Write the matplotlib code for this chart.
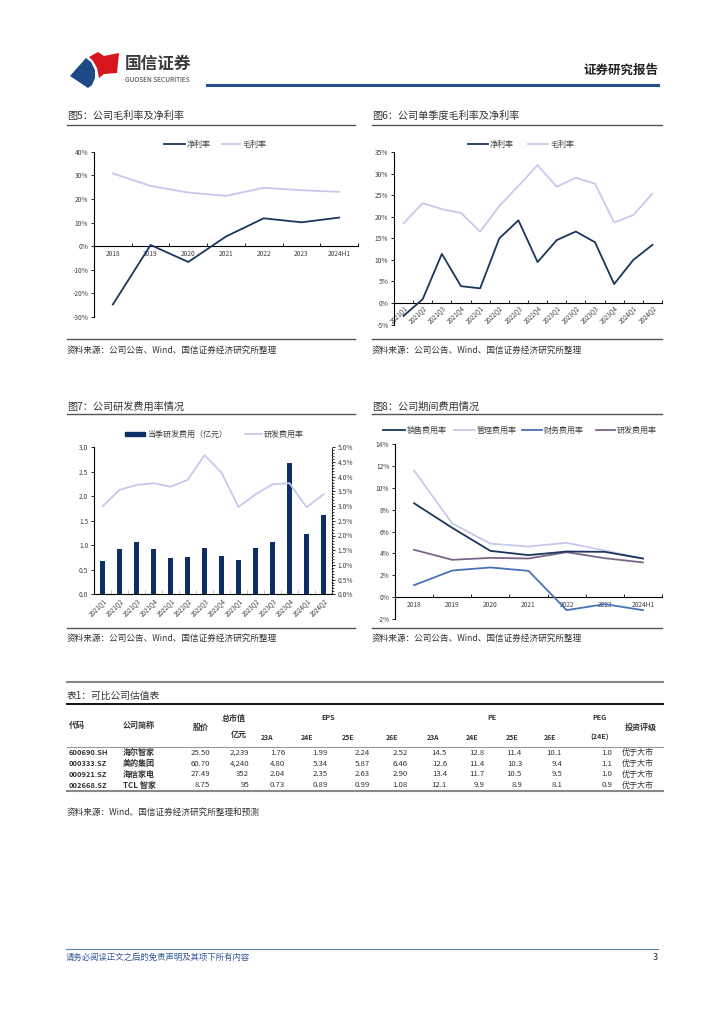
import numpy as np
import matplotlib
matplotlib.use("Agg")
import matplotlib.pyplot as plt
from matplotlib.lines import Line2D
from matplotlib.patches import Polygon, Rectangle
from matplotlib.ticker import FuncFormatter, MultipleLocator

plt.rcParams['font.family'] = ['Noto Sans CJK SC', 'DejaVu Sans']
plt.rcParams['axes.unicode_minus'] = False

# ---- data ----
years = ['2018', '2019', '2020', '2021', '2022', '2023', '2024H1']
net_margin = [-24.7, 0.5, -6.7, 4.1, 11.8, 10.1, 12.1]
gross_margin = [30.8, 25.5, 22.7, 21.3, 24.7, 23.7, 23.0]

quarters = ['2021Q1', '2021Q2', '2021Q3', '2021Q4', '2022Q1', '2022Q2', '2022Q3',
            '2022Q4', '2023Q1', '2023Q2', '2023Q3', '2023Q4', '2024Q1', '2024Q2']
q_net = [-3.0, 0.9, 11.4, 3.9, 3.4, 15.0, 19.2, 9.5, 14.6, 16.6, 14.1, 4.4, 10.0, 13.5]
q_gross = [18.5, 23.2, 21.8, 20.9, 16.6, 22.5, 27.2, 32.0, 27.0, 29.1, 27.7, 18.7, 20.4, 25.4]

rd_exp = [0.67, 0.92, 1.07, 0.92, 0.74, 0.76, 0.95, 0.79, 0.71, 0.95, 1.07, 2.68, 1.24, 1.61]
rd_rate = [2.99, 3.55, 3.72, 3.78, 3.66, 3.89, 4.73, 4.14, 2.97, 3.40, 3.74, 3.78, 2.96, 3.40]

sell_rate = [8.6, 6.35, 4.24, 3.85, 4.18, 4.15, 3.54]
admin_rate = [11.6, 6.75, 4.9, 4.64, 4.98, 4.27, 3.54]
fin_rate = [1.1, 2.44, 2.72, 2.41, -1.19, -0.64, -1.19]
rd_rate_y = [4.34, 3.42, 3.6, 3.54, 4.12, 3.57, 3.18]

codes = ['600690.SH', '000333.SZ', '000921.SZ', '002668.SZ']
names = ['海尔智家', '美的集团', '海信家电', 'TCL 智家']
prices = ['25.50', '60.70', '27.49', '8.75']
mcaps = ['2,239', '4,240', '352', '95']
eps = [[1.76, 1.99, 2.24, 2.52], [4.80, 5.34, 5.87, 6.46],
       [2.04, 2.35, 2.63, 2.90], [0.73, 0.89, 0.99, 1.08]]
pe = [[14.5, 12.8, 11.4, 10.1], [12.6, 11.4, 10.3, 9.4],
      [13.4, 11.7, 10.5, 9.5], [12.1, 9.9, 8.9, 8.1]]
peg = [1.0, 1.1, 1.0, 0.9]
ratings = ['优于大市', '优于大市', '优于大市', '优于大市']
sub_cols = ['23A', '24E', '25E', '26E']

NAVY = '#1b365d'
LAV = '#c8c8ee'
BLUE = '#4a72b8'
PURP = '#7b6589'
BAR = '#0e2f66'
TXT = '#333333'
TICK = '#404040'

W, H = 724, 1024
fig = plt.figure(figsize=(W / 100, H / 100), dpi=100)


def add_ax(l, t, r, b):
    return fig.add_axes([l / W, 1 - b / H, (r - l) / W, (b - t) / H])


def ftext(x, y, s, **kw):
    kw.setdefault('va', 'center')
    kw.setdefault('color', TXT)
    fig.text(x / W, 1 - y / H, s, **kw)


def hline(x0, x1, y, **kw):
    fig.add_artist(Line2D([x0 / W, x1 / W], [1 - y / H] * 2, **kw))


def leg_line(x0, x1, y, color, label, lw=1.3):
    hline(x0, x1, y, color=color, lw=lw)
    ftext(x1 + 2, y, label, fontsize=5.8, color=TICK)


def px_poly(pts, color):
    fig.add_artist(Polygon([(x / W, 1 - y / H) for x, y in pts], closed=True,
                           transform=fig.transFigure, color=color, lw=0))


# ---- page header ----
px_poly([(70, 76), (86, 58), (91, 62), (95, 70), (95, 78), (92, 85), (88, 88)], '#1d4a86')
px_poly([(89, 57), (98, 52), (104, 56), (119, 53), (117, 73), (104, 74), (99, 78),
         (97, 68), (93, 61)], '#d7161e')
ftext(125, 64, '国信证券', fontsize=12, color='#3a3a3a', weight='bold')
ftext(125, 80, 'GUOSEN SECURITIES', fontsize=4.8, color='#3a3a3a')
ftext(658, 70, '证券研究报告', fontsize=9, weight='bold', ha='right', color='#222222')
hline(207, 658, 85, color='#24528f', lw=2.2)


def chart_frame(x0, x1, y_title, y_tline, y_sline, y_src, title):
    ftext(x0, y_title, title, fontsize=7.3)
    hline(x0, x1, y_tline, color='#555555', lw=1.0)
    hline(x0, x1, y_sline, color='#555555', lw=1.0)
    ftext(x0, y_src, '资料来源：公司公告、Wind、国信证券经济研究所整理', fontsize=6.2)


def style_line_ax(ax, labels, rot=0):
    n = len(labels)
    ax.set_xlim(-0.5, n - 0.5)
    for s in ['top', 'right']:
        ax.spines[s].set_visible(False)
    ax.spines['bottom'].set_position(('data', 0))
    ax.spines['bottom'].set_linewidth(0.8)
    ax.spines['left'].set_linewidth(0.8)
    ax.set_xticks(np.arange(n))
    if rot:
        ax.set_xticklabels(labels, rotation=rot, ha='right', rotation_mode='anchor')
    else:
        ax.set_xticklabels(labels)
    ax.set_xticks(np.arange(-0.5, n, 1), minor=True)
    ax.tick_params(axis='x', which='major', length=0, pad=3, labelsize=4.8, labelcolor=TICK)
    ax.tick_params(axis='x', which='minor', length=2, direction='in')
    ax.tick_params(axis='y', length=2, width=0.6, pad=2, labelsize=4.8, labelcolor=TICK)
    ax.patch.set_alpha(0)


pct = FuncFormatter(lambda v, p: f'{v:.0f}%')

# ---- chart 5 ----
chart_frame(67, 355, 116, 125, 339, 350, '图5：公司毛利率及净利率')
ax5 = add_ax(94, 151.7, 358, 317)
x5 = np.arange(len(years))
ax5.plot(x5, net_margin, color=NAVY, lw=1.3, zorder=3)
ax5.plot(x5, gross_margin, color=LAV, lw=1.3, zorder=3)
ax5.set_ylim(-30, 40)
ax5.yaxis.set_major_locator(MultipleLocator(10))
ax5.yaxis.set_major_formatter(pct)
style_line_ax(ax5, years)
leg_line(164, 185, 144, NAVY, '净利率')
leg_line(222, 240, 144, LAV, '毛利率')

# ---- chart 6 ----
chart_frame(372, 662, 116, 125, 339, 350, '图6：公司单季度毛利率及净利率')
ax6 = add_ax(394, 152.3, 662, 324.5)
x6 = np.arange(len(quarters))
ax6.plot(x6, q_net, color=NAVY, lw=1.3, zorder=3)
ax6.plot(x6, q_gross, color=LAV, lw=1.3, zorder=3)
ax6.set_ylim(-5, 35)
ax6.yaxis.set_major_locator(MultipleLocator(5))
ax6.yaxis.set_major_formatter(pct)
style_line_ax(ax6, quarters, rot=45)
ax6.tick_params(axis='x', which='major', pad=1, labelsize=4.5)
leg_line(468, 488, 144, NAVY, '净利率')
leg_line(528, 548, 144, LAV, '毛利率')

# ---- chart 7 ----
chart_frame(67, 355, 407, 414, 628, 638, '图7：公司研发费用率情况')
ax7 = add_ax(94, 447.3, 332, 594.3)
x7 = np.arange(len(quarters))
ax7.bar(x7, rd_exp, width=0.3, color=BAR, zorder=2)
ax7.set_xlim(-0.5, len(quarters) - 0.5)
ax7.set_ylim(0, 3.0)
ax7.yaxis.set_major_locator(MultipleLocator(0.5))
ax7.yaxis.set_major_formatter(FuncFormatter(lambda v, p: f'{v:.1f}'))
ax7.spines['top'].set_visible(False)
ax7.spines['left'].set_linewidth(0.8)
ax7.spines['bottom'].set_linewidth(0.8)
ax7.spines['right'].set_visible(False)
ax7.set_xticks(x7)
ax7.set_xticklabels(quarters, rotation=45, ha='right', rotation_mode='anchor')
ax7.set_xticks(np.arange(-0.5, len(quarters), 1), minor=True)
ax7.tick_params(axis='x', which='major', length=0, pad=2, labelsize=4.5, labelcolor=TICK)
ax7.tick_params(axis='x', which='minor', length=3, direction='in', color='#bbbbbb')
ax7.tick_params(axis='y', length=2, width=0.6, pad=2, labelsize=4.8, labelcolor=TICK)
ax7r = ax7.twinx()
ax7r.plot(x7, rd_rate, color=LAV, lw=1.3, zorder=3)
ax7r.set_ylim(0, 5.0)
ax7r.yaxis.set_major_locator(MultipleLocator(0.5))
ax7r.yaxis.set_minor_locator(MultipleLocator(0.1))
ax7r.yaxis.set_major_formatter(FuncFormatter(lambda v, p: f'{v:.1f}%'))
for s in ['top', 'left', 'bottom']:
    ax7r.spines[s].set_visible(False)
ax7r.spines['right'].set_linestyle((0, (1, 1.5)))
ax7r.spines['right'].set_linewidth(0.8)
ax7r.tick_params(axis='y', which='major', length=2, width=0.6, pad=2, labelsize=4.8, labelcolor=TICK)
ax7r.tick_params(axis='y', which='minor', length=1.2, width=0.5)
fig.add_artist(Rectangle((125 / W, 1 - 436 / H), 20 / W, 4 / H, transform=fig.transFigure, color=BAR))
ftext(147, 434, '当季研发费用（亿元）', fontsize=5.8, color=TICK)
leg_line(245, 262, 434, LAV, '研发费用率')

# ---- chart 8 ----
chart_frame(372, 662, 407, 414, 628, 638, '图8：公司期间费用情况')
ax8 = add_ax(395, 444.3, 662, 619)
x8 = np.arange(len(years))
ax8.plot(x8, sell_rate, color=NAVY, lw=1.3, zorder=4)
ax8.plot(x8, admin_rate, color=LAV, lw=1.3, zorder=3)
ax8.plot(x8, fin_rate, color=BLUE, lw=1.3, zorder=3)
ax8.plot(x8, rd_rate_y, color=PURP, lw=1.3, zorder=3)
ax8.set_ylim(-2, 14)
ax8.yaxis.set_major_locator(MultipleLocator(2))
ax8.yaxis.set_major_formatter(pct)
style_line_ax(ax8, years)
leg_line(383, 405, 430, NAVY, '销售费用率')
leg_line(454, 475, 430, LAV, '管理费用率')
leg_line(522, 542, 430, BLUE, '财务费用率')
leg_line(596, 615, 430, PURP, '研发费用率')

# ---- table ----
hline(67, 663, 682, color='#888888', lw=1.5)
ftext(67, 696, '表1：可比公司估值表', fontsize=7.0)
hline(67, 663, 704, color='#111111', lw=1.4)
hfs = 5.8
ftext(69, 725, '代码', fontsize=hfs, weight='bold')
ftext(123, 725, '公司简称', fontsize=hfs, weight='bold')
ftext(201, 727, '股价', fontsize=hfs, weight='bold', ha='center')
ftext(234, 718, '总市值', fontsize=hfs, weight='bold', ha='center')
ftext(239, 734, '亿元', fontsize=hfs, weight='bold', ha='center')
ftext(328, 718, 'EPS', fontsize=5.2, weight='bold', ha='center')
ftext(492, 718, 'PE', fontsize=5.2, weight='bold', ha='center')
ftext(600, 718, 'PEG', fontsize=5.2, weight='bold', ha='center')
ftext(600, 737, '(24E)', fontsize=5.2, weight='bold', ha='center')
ftext(641, 727, '投资评级', fontsize=hfs, weight='bold', ha='center')
eps_hdr = [267, 307, 348, 392]
pe_hdr = [433, 472, 512, 550]
for cx, lab in zip(eps_hdr, sub_cols):
    ftext(cx, 737, lab, fontsize=5.0, weight='bold', ha='center')
for cx, lab in zip(pe_hdr, sub_cols):
    ftext(cx, 737, lab, fontsize=5.0, weight='bold', ha='center')
hline(67, 663, 746.7, color='#999999', lw=0.8)

eps_r = [285, 328, 370, 408]
pe_r = [447, 485, 522, 562]
row_y = [752.7, 763.5, 774.5, 785.3]
nfs = 5.6
for i, y in enumerate(row_y):
    ftext(69, y, codes[i], fontsize=5.4, weight='bold')
    ftext(123, y, names[i], fontsize=hfs, weight='bold')
    ftext(210, y, prices[i], fontsize=nfs, ha='right')
    ftext(249, y, mcaps[i], fontsize=nfs, ha='right')
    for xr, v in zip(eps_r, eps[i]):
        ftext(xr, y, f'{v:.2f}', fontsize=nfs, ha='right')
    for xr, v in zip(pe_r, pe[i]):
        ftext(xr, y, f'{v:.1f}', fontsize=nfs, ha='right')
    ftext(612, y, f'{peg[i]:.1f}', fontsize=nfs, ha='right')
    ftext(622, y, ratings[i], fontsize=hfs)
hline(67, 663, 791, color='#888888', lw=1.5)
ftext(67, 812, '资料来源：Wind、国信证券经济研究所整理和预测', fontsize=6.2)

# ---- footer ----
hline(66, 658, 948.5, color='#5a7fa8', lw=0.8)
ftext(66, 957, '请务必阅读正文之后的免责声明及其项下所有内容', fontsize=6.0,
      color='#2f5597', style='italic')
ftext(658, 957, '3', fontsize=6.5, ha='right', color='#222222')

fig.savefig('out.png', dpi=100)
